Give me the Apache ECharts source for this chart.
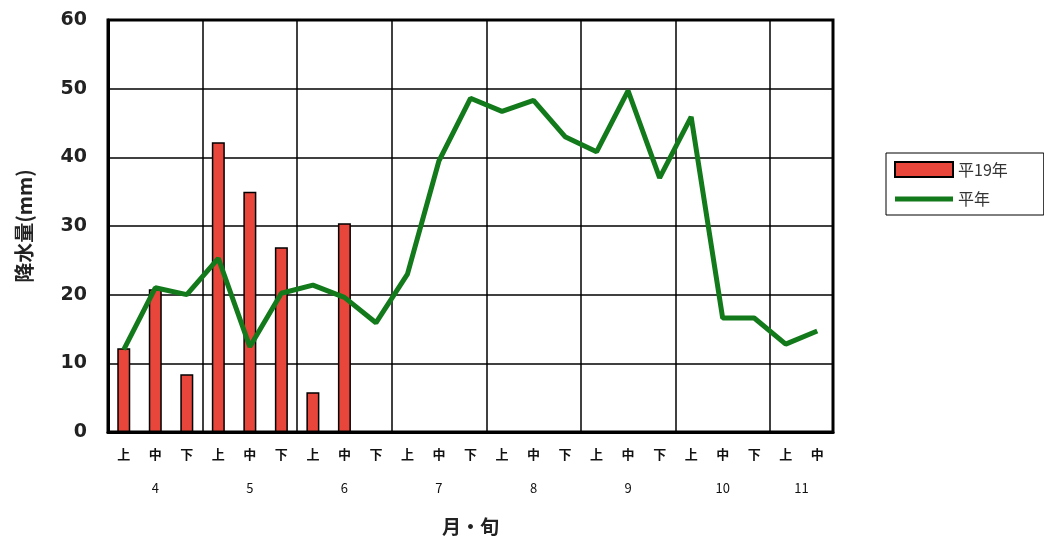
<!DOCTYPE html>
<html>
<head>
<meta charset="utf-8">
<script src="https://cdn.jsdelivr.net/npm/echarts@6/dist/echarts.min.js"></script>
<style>
  html, body { margin: 0; padding: 0; background: #fff; }
  #chart { width: 1044px; height: 544px; }
</style>
</head>
<body>
<div id="chart"></div>
<script>
// Dekads (上旬・中旬・下旬) from April to mid-November
const dekads = ['上','中','下','上','中','下','上','中','下','上','中','下',
                '上','中','下','上','中','下','上','中','下','上','中'];
// Month labels and how many dekads each month spans on the axis
const months = ['4','5','6','7','8','9','10','11'];
const monthDekads = [3, 3, 3, 3, 3, 3, 3, 2];

// Precipitation (mm): this year (平19年) and the normal year (平年)
const thisYear = [12.2, 20.8, 8.4, 42.2, 35.0, 26.9, 5.8, 30.4];
const normalYear = [12.0, 21.0, 20.0, 25.3, 12.4, 20.2, 21.4, 19.6, 15.9, 23.0,
                    39.5, 48.6, 46.7, 48.3, 43.0, 40.8, 49.7, 37.0, 45.9, 16.6,
                    16.6, 12.8, 14.7];

const yTicks = [0, 10, 20, 30, 40, 50, 60];

// centre of each month along the dekad scale
const monthCenters = [];
let start = 0;
monthDekads.forEach(n => { monthCenters.push(start + n / 2); start += n; });

const chart = echarts.init(document.getElementById('chart'));
chart.setOption({
  animation: false,
  backgroundColor: '#fff',
  textStyle: { fontFamily: 'Noto Sans CJK JP, DejaVu Sans, sans-serif' },
  grid: {
    left: 108, right: 211, top: 20, bottom: 112,
    show: true, borderColor: '#000', borderWidth: 3
  },
  legend: {
    orient: 'vertical',
    left: 886, top: 153,
    padding: [8, 36, 8, 8],
    borderColor: '#000', borderWidth: 1,
    itemWidth: 58, itemHeight: 15, itemGap: 13,
    textStyle: { fontSize: 16, color: '#333' },
    data: [
      { name: '平19年', icon: 'rect' },
      { name: '平年', icon: 'path://M0 0H58V5H0Z' }
    ]
  },
  xAxis: [
    {
      type: 'category',
      data: dekads,
      boundaryGap: true,
      axisLine: { show: true, lineStyle: { color: '#000', width: 3 } },
      axisTick: { show: false },
      axisLabel: { interval: 0, margin: 16, fontSize: 13, fontWeight: 'bold', color: '#111' },
      splitLine: {
        show: true,
        interval: idx => idx % 3 === 0,
        lineStyle: { color: '#000', width: 1.5 }
      }
    },
    {
      type: 'value',
      min: 0, max: dekads.length,
      position: 'bottom',
      offset: 40,
      axisLine: { show: false },
      axisTick: { show: false },
      splitLine: { show: false },
      axisLabel: {
        margin: 10, fontSize: 13, color: '#111',
        customValues: monthCenters,
        formatter: v => {
          const i = monthCenters.findIndex(c => Math.abs(c - v) < 1e-6);
          return i >= 0 ? months[i] : '';
        }
      },
      name: '月・旬',
      nameLocation: 'middle',
      nameGap: 45,
      nameTextStyle: { fontSize: 19, fontWeight: 'bold', color: '#222' }
    }
  ],
  yAxis: {
    type: 'value',
    min: 0, max: 60, interval: 10,
    axisLine: { show: true, lineStyle: { color: '#000', width: 3 } },
    axisTick: { show: false },
    axisLabel: {
      margin: 21, fontSize: 19, fontWeight: 'bold', color: '#222',
      fontFamily: 'DejaVu Sans',
      customValues: yTicks
    },
    splitLine: { show: true, lineStyle: { color: '#000', width: 1.5 } },
    name: '降水量(mm)',
    nameLocation: 'middle',
    nameGap: 74,
    nameRotate: 90,
    nameTextStyle: { fontSize: 20, fontWeight: 'bold', color: '#222' }
  },
  series: [
    {
      name: '平19年',
      type: 'bar',
      xAxisIndex: 0,
      data: thisYear,
      barWidth: 13,
      itemStyle: { color: '#e8463b', borderColor: '#000', borderWidth: 1.5 }
    },
    {
      name: '平年',
      type: 'line',
      xAxisIndex: 0,
      data: normalYear,
      symbol: 'none',
      lineStyle: { color: '#137a1b', width: 5 },
      itemStyle: { color: '#137a1b' }
    }
  ]
});
</script>
</body>
</html>
